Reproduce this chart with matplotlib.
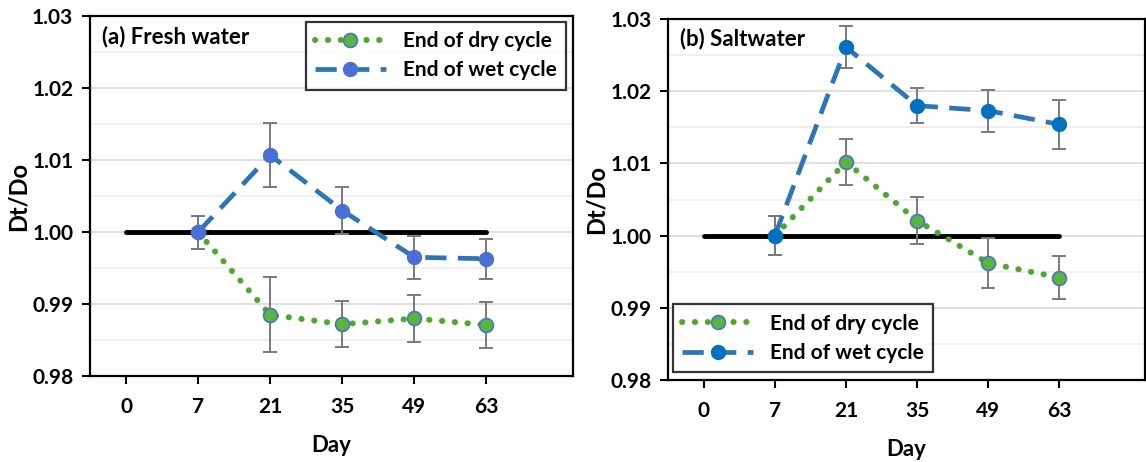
import matplotlib
matplotlib.use("Agg")
import matplotlib.pyplot as plt
from matplotlib.ticker import MultipleLocator

plt.rcParams['font.family'] = ['Lato', 'DejaVu Sans']
plt.rcParams['font.weight'] = 'bold'

days = ['0', '7', '21', '35', '49', '63']
data_days = ['7', '21', '35', '49', '63']

fresh_dry = [1.000, 0.9885, 0.9872, 0.9880, 0.9871]
fresh_dry_err = [0.0023, 0.0052, 0.0032, 0.0032, 0.0032]
fresh_wet = [1.000, 1.0107, 1.0030, 0.9965, 0.9963]
fresh_wet_err = [0.0023, 0.0045, 0.0033, 0.0030, 0.0028]

salt_dry = [1.000, 1.0102, 1.0021, 0.9962, 0.9942]
salt_dry_err = [0.0027, 0.0032, 0.0032, 0.0035, 0.0030]
salt_wet = [1.000, 1.0261, 1.0180, 1.0173, 1.0154]
salt_wet_err = [0.0027, 0.0029, 0.0024, 0.0029, 0.0034]

reference = 1.00

GREEN = '#4ea72e'
GREEN_FILL = '#5ab53c'
EDGE = '#4a72c8'
ERR = '#7a7a7a'


def draw_panel(ax, dry, dry_err, wet, wet_err, title, wet_marker, wet_line,
               legend_loc, legend_anchor):
    xpos = [days.index(d) for d in data_days]
    ax.plot(range(len(days)), [reference] * len(days), color='black',
            lw=3.5, solid_capstyle='round', zorder=2)
    ax.errorbar(xpos, wet, yerr=wet_err, fmt='none', ecolor=ERR,
                elinewidth=1.4, capsize=5, capthick=1.4, zorder=3)
    ax.errorbar(xpos, dry, yerr=dry_err, fmt='none', ecolor=ERR,
                elinewidth=1.4, capsize=5, capthick=1.4, zorder=3)
    ax.plot(xpos, dry, linestyle=(0, (0.05, 2.1)), color=GREEN, lw=4.3,
            dash_capstyle='round', marker='o', markersize=10,
            markerfacecolor=GREEN_FILL, markeredgecolor=EDGE,
            markeredgewidth=1.2, label='End of dry cycle', zorder=4)
    ax.plot(xpos, wet, linestyle=(0, (4.5, 2.4)), color=wet_line, lw=3.4,
            marker='o', markersize=10, markerfacecolor=wet_marker,
            markeredgecolor=wet_marker, label='End of wet cycle', zorder=4)

    ax.set_xlim(-0.5, 6.2)
    ax.set_ylim(0.98, 1.03)
    ax.set_xticks(range(len(days)))
    ax.set_xticklabels(days)
    ax.yaxis.set_major_locator(MultipleLocator(0.01))
    ax.yaxis.set_minor_locator(MultipleLocator(0.005))
    ax.yaxis.set_major_formatter(matplotlib.ticker.FormatStrFormatter('%.2f'))
    ax.grid(axis='y', which='major', color='#d9d9d9', lw=1.2)
    ax.grid(axis='y', which='minor', color='#ececec', lw=1.2)
    ax.set_axisbelow(True)
    ax.tick_params(axis='both', labelsize=15, direction='out', length=6,
                   width=1.5, pad=6)
    ax.tick_params(axis='x', pad=9)
    ax.tick_params(axis='y', which='minor', length=0)
    for sp in ax.spines.values():
        sp.set_linewidth(1.6)
        sp.set_color('black')
    ax.set_xlabel('Day', fontsize=16, fontweight='bold', labelpad=13)
    ax.set_ylabel('Dt/Do', fontsize=17, fontweight='bold', labelpad=2)
    ax.text(0.025, 0.975, title, transform=ax.transAxes, fontsize=16,
            fontweight='bold', va='top', ha='left')
    leg = ax.legend(loc=legend_loc, bbox_to_anchor=legend_anchor, fontsize=15,
                    frameon=True, fancybox=False, edgecolor='black',
                    handlelength=3.4, borderpad=0.45, labelspacing=0.45,
                    borderaxespad=0.0)
    leg.get_frame().set_linewidth(1.6)


fig = plt.figure(figsize=(11.46, 4.62), dpi=100)
ax1 = fig.add_axes([0.0785, 0.186, 0.4215, 0.779])
ax2 = fig.add_axes([0.583, 0.177, 0.416, 0.782])

draw_panel(ax1, fresh_dry, fresh_dry_err, fresh_wet, fresh_wet_err,
           '(a) Fresh water', '#4a6fd6', '#2e75b6', 'upper right',
           (0.985, 0.985))
draw_panel(ax2, salt_dry, salt_dry_err, salt_wet, salt_wet_err,
           '(b) Saltwater', '#0070c0', '#2e75b6', 'lower left',
           (0.01, 0.022))

fig.savefig('out.png', dpi=100)
